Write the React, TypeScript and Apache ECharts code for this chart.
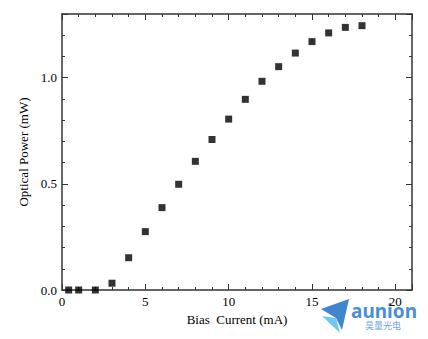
import React, { useEffect, useRef } from "react";
import * as echarts from "echarts";

const biasCurrent = [0.4, 1, 2, 3, 4, 5, 6, 7, 8, 9, 10, 11, 12, 13, 14, 15, 16, 17, 18];
const opticalPower = [0.0, 0.0, 0.0, 0.032, 0.152, 0.275, 0.388, 0.498, 0.606, 0.709, 0.805, 0.898, 0.983, 1.052, 1.116, 1.17, 1.211, 1.237, 1.245];
const xMajorLabels = [0, 5, 10, 15, 20];
const yMajorLabels = [0.0, 0.5, 1.0];

const FONT = "'Liberation Serif', 'Times New Roman', serif";

export default function App() {
  const ref = useRef<HTMLDivElement>(null);
  useEffect(() => {
    document.body.style.margin = "0";
    const chart = echarts.init(ref.current!, null, { renderer: "svg" });
    const axisLine = { show: true, onZero: false, lineStyle: { color: "#333", width: 1.5 } };
    const noLine = { show: false, onZero: false };
    const xBase = { type: "value", min: 0, max: 21, axisLine, splitLine: { show: false } };
    const yBase = { type: "value", min: 0, max: 1.3, axisLine, splitLine: { show: false } };
    const tickStyle = { color: "#333", width: 1 };
    const xAxis: any[] = [
      {
        ...xBase, position: "bottom", interval: 1,
        name: "Bias  Current (mA)", nameLocation: "middle", nameGap: 23,
        nameTextStyle: { color: "#000", fontFamily: FONT, fontSize: 13 },
        axisTick: { show: true, inside: true, length: 3, lineStyle: tickStyle },
        axisLabel: {
          show: true, margin: 5, color: "#000", fontFamily: FONT, fontSize: 13,
          formatter: (v: number) => (xMajorLabels.some((m) => Math.abs(m - v) < 1e-6) ? String(v) : ""),
        },
      },
      { ...xBase, position: "bottom", interval: 5, axisLine: noLine, axisTick: { show: true, inside: true, length: 6, lineStyle: tickStyle }, axisLabel: { show: false } },
      { ...xBase, position: "top", interval: 1, axisTick: { show: true, inside: true, length: 3, lineStyle: tickStyle }, axisLabel: { show: false } },
      { ...xBase, position: "top", interval: 5, axisLine: noLine, axisTick: { show: true, inside: true, length: 6, lineStyle: tickStyle }, axisLabel: { show: false } },
    ];
    const yAxis: any[] = [
      {
        ...yBase, position: "left", interval: 0.1,
        name: "Optical Power (mW)", nameLocation: "middle", nameGap: 31,
        nameTextStyle: { color: "#000", fontFamily: FONT, fontSize: 13 },
        axisTick: { show: true, inside: true, length: 3, lineStyle: tickStyle },
        axisLabel: {
          show: true, margin: 5, color: "#000", fontFamily: FONT, fontSize: 13,
          formatter: (v: number) => (yMajorLabels.some((m) => Math.abs(m - v) < 1e-6) ? v.toFixed(1) : ""),
        },
      },
      { ...yBase, position: "left", interval: 0.5, axisLine: noLine, axisTick: { show: true, inside: true, length: 6, lineStyle: tickStyle }, axisLabel: { show: false } },
      { ...yBase, position: "right", interval: 0.1, axisTick: { show: true, inside: true, length: 3, lineStyle: tickStyle }, axisLabel: { show: false } },
      { ...yBase, position: "right", interval: 0.5, axisLine: noLine, axisTick: { show: true, inside: true, length: 6, lineStyle: tickStyle }, axisLabel: { show: false } },
    ];
    chart.setOption({
      animation: false,
      backgroundColor: "#fff",
      grid: { left: 62, top: 14, right: 16, bottom: 49, containLabel: false },
      xAxis,
      yAxis,
      series: [
        {
          type: "scatter",
          xAxisIndex: 0,
          yAxisIndex: 0,
          symbol: "rect",
          symbolSize: 7,
          itemStyle: { color: "#000" },
          data: biasCurrent.map((x, i) => [x, opticalPower[i]]),
        },
      ],
      graphic: [
        { type: "polygon", shape: { points: [[321, 309], [349, 299], [342, 330], [336, 318]] }, style: { fill: "#3f86cf" } },
        { type: "polygon", shape: { points: [[322, 316], [336, 318], [340, 333]] }, style: { fill: "#72c7ec" } },
        { type: "text", x: 384, y: 311, style: { text: "aunion", fill: "#4a8fd6", font: "bold 19px 'Noto Sans'", align: "center", verticalAlign: "middle" } },
        { type: "text", x: 383, y: 325, style: { text: "昊量光电", fill: "#6fa8e0", font: "9px 'Noto Sans CJK SC'", align: "center", verticalAlign: "middle" } },
      ],
    });
    return () => chart.dispose();
  }, []);
  return <div ref={ref} style={{ width: 428, height: 339 }} />;
}
